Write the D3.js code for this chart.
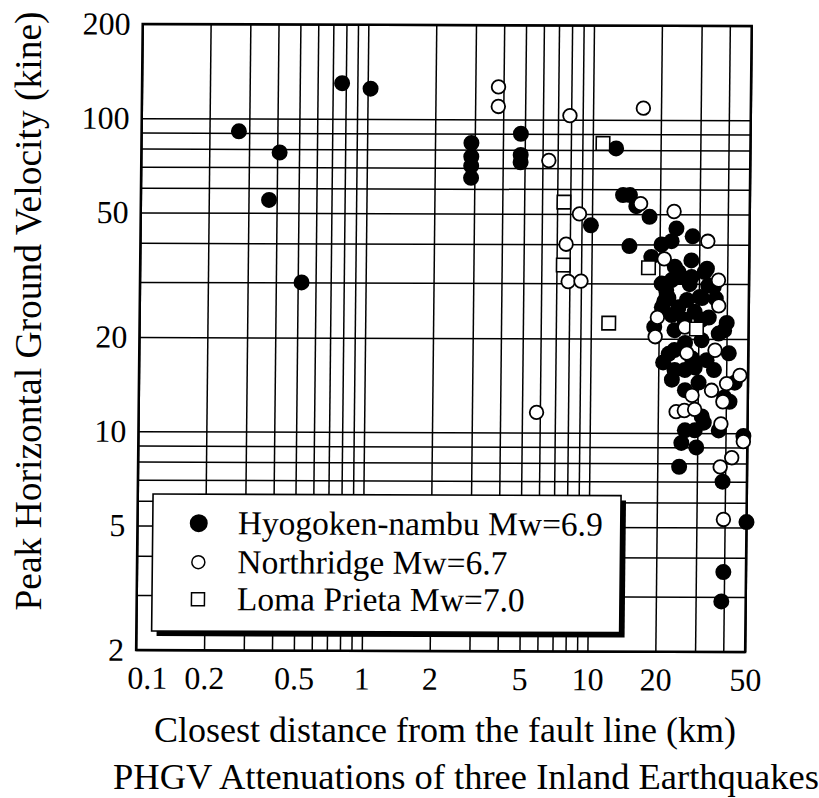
<!DOCTYPE html>
<html>
<head>
<meta charset="utf-8">
<script src="https://cdn.jsdelivr.net/npm/d3@7"></script>
<style>
  body { margin: 0; background: #fff; }
  svg { display: block; }
  text { font-family: "Liberation Serif", "Times New Roman", serif; fill: #000; }
</style>
</head>
<body>
<div id="chart"></div>
<script>
// closest distance (km), peak horizontal ground velocity (kine)
var hyogoken = [
  [0.27, 91], [0.37, 55], [0.41, 78], [0.52, 30], [0.77, 130], [1.03, 125],
  [2.9, 84], [2.9, 76], [2.9, 71], [2.9, 65],
  [4.8, 90], [4.8, 77], [4.8, 73],
  [12.7, 81], [13.7, 57.5], [14.7, 57.5], [15.7, 53], [18, 49], [9.9, 46], [14.7, 39.5],
  [23.7, 45], [22.6, 41], [28, 42.5], [20.4, 40], [18.4, 36.5],
  [23.4, 34], [25.1, 31.5], [20.5, 30], [22, 27], [31, 27], [32.5, 33.5], [20.6, 25.2],
  [19.1, 21.8], [40, 22.5], [33.3, 23.4], [23.5, 18.4], [41, 18],
  [24.3, 32.7], [22.7, 30.8], [27.8, 31.5], [31.8, 32.7], [30.3, 27.2], [21.5, 28.6],
  [21.1, 26.3], [24.4, 25.2], [22.8, 23.8], [28.8, 24.4], [26, 23], [23.5, 21.3], [39, 21.3],
  [22.2, 17.9], [23.6, 15.9], [29, 16.2], [23, 14.8], [30.2, 14.5], [39.3, 13], [36.9, 20.8],
  [26.2, 15.9], [43.7, 14.5], [41.5, 12.6], [32, 10.8], [29.2, 10.2], [25.5, 9.3], [29.7, 9.0],
  [26.4, 10.2], [37.3, 10.2], [48, 9.8], [25, 7.8], [39, 7.0], [39.7, 3.6], [39, 2.9],
  [50, 5.2], [31.3, 11.3], [27.3, 29.9], [26.6, 26.6], [33, 29.6],
  [26.2, 19.4], [31, 19.8], [32.7, 17.1], [28.2, 17.3], [35.3, 15.9], [21, 16.8],
  [26.3, 13.7], [34.9, 29.3], [35.7, 26.9], [27.7, 35.6], [30.9, 23]
];
var northridge = [
  [3.8, 127], [3.8, 110], [7.9, 103], [16.7, 109], [6.4, 74], [8.8, 50], [7.7, 40],
  [7.9, 30.4], [9.0, 30.5], [5.8, 11.6], [16.4, 54], [23.1, 51], [32.7, 41], [21, 36],
  [36.6, 30.8], [36.8, 25.5], [19.7, 23.4], [19.3, 20.3], [35.6, 18.4], [26.7, 18],
  [46, 15.3], [40.2, 14.4], [34.5, 13.7], [28.3, 13.2], [38.8, 12.6], [24.1, 11.7],
  [26.2, 11.8], [29.1, 11.9], [38.1, 10.7], [48, 9.4], [42.7, 8.35], [38, 7.8],
  [39.5, 5.3], [26.1, 21.8]
];
var lomaPrieta = [
  [11.1, 84], [7.5, 54.5], [7.5, 34.3], [12, 22.4], [17.9, 33.7], [29.4, 21.5]
];
var legendLabels = ["Hyogoken-nambu Mw=6.9", "Northridge Mw=6.7", "Loma Prieta Mw=7.0"];
var xTicks = [0.1, 0.2, 0.5, 1, 2, 5, 10, 20, 50];
var yTicks = [2, 5, 10, 20, 50, 100, 200];

var W = 819, H = 798;
var plotL = 142.7, plotR = 751.7, plotT = 24, plotB = 650;

var svg = d3.select("#chart").append("svg")
    .attr("width", W)
    .attr("height", H);

var x = d3.scaleLog().domain([0.1, 50]).range([plotL, plotR]);
var y = d3.scaleLog().domain([2, 200]).range([plotB, plotT]);

// the scanned original is slightly sheared
var g = svg.append("g")
    .attr("transform", "translate(" + plotL + "," + plotT + ") matrix(1,0.0033,-0.0105,1,0,0) translate(" + (-plotL) + "," + (-plotT) + ")");

// grid
g.append("g")
    .attr("class", "grid")
    .attr("transform", "translate(0," + plotB + ")")
    .call(d3.axisBottom(x).tickValues(x.ticks()).tickSize(-(plotB - plotT)).tickFormat(""))
    .call(function(s) { s.select(".domain").remove(); });
g.append("g")
    .attr("class", "grid")
    .attr("transform", "translate(" + plotL + ",0)")
    .call(d3.axisLeft(y).tickValues(y.ticks()).tickSize(-(plotR - plotL)).tickFormat(""))
    .call(function(s) { s.select(".domain").remove(); });
g.selectAll(".grid line").attr("stroke", "#000").attr("stroke-width", 1.5);

// tick labels
var xa = g.append("g")
    .attr("transform", "translate(0," + plotB + ")")
    .call(d3.axisBottom(x).tickValues(xTicks).tickSize(0).tickPadding(16).tickFormat(function(d) { return d; }));
var ya = g.append("g")
    .attr("transform", "translate(" + plotL + ",0)")
    .call(d3.axisLeft(y).tickValues(yTicks).tickSize(0).tickPadding(12).tickFormat(function(d) { return d; }));
xa.select(".domain").remove();
ya.select(".domain").remove();
g.selectAll(".tick text")
    .attr("font-family", "Liberation Serif, Times New Roman, serif")
    .attr("font-size", 32)
    .attr("fill", "#000");
// first label sits clear of the corner
xa.selectAll(".tick text").filter(function(d) { return d === 0.1; }).attr("dx", 11);

// frame
g.append("rect")
    .attr("x", plotL).attr("y", plotT)
    .attr("width", plotR - plotL).attr("height", plotB - plotT)
    .attr("fill", "none").attr("stroke", "#000").attr("stroke-width", 2.5);

// points
g.append("g").selectAll("circle")
    .data(hyogoken)
  .enter().append("circle")
    .attr("cx", function(d) { return x(d[0]); })
    .attr("cy", function(d) { return y(d[1]); })
    .attr("r", 8)
    .attr("fill", "#000");

g.append("g").selectAll("circle")
    .data(northridge)
  .enter().append("circle")
    .attr("cx", function(d) { return x(d[0]); })
    .attr("cy", function(d) { return y(d[1]); })
    .attr("r", 6.8)
    .attr("fill", "#fff")
    .attr("stroke", "#000")
    .attr("stroke-width", 1.8);

var sq = 13.5;
g.append("g").selectAll("rect")
    .data(lomaPrieta)
  .enter().append("rect")
    .attr("x", function(d) { return x(d[0]) - sq / 2; })
    .attr("y", function(d) { return y(d[1]) - sq / 2; })
    .attr("width", sq).attr("height", sq)
    .attr("fill", "#fff")
    .attr("stroke", "#000")
    .attr("stroke-width", 1.6);

// legend
var lx = 158, ly = 494, lw = 468, lh = 137;
var legend = g.append("g");
legend.append("rect")
    .attr("x", lx + 5).attr("y", ly + 5)
    .attr("width", lw).attr("height", lh)
    .attr("fill", "#000");
legend.append("rect")
    .attr("x", lx).attr("y", ly)
    .attr("width", lw).attr("height", lh)
    .attr("fill", "#fff").attr("stroke", "#000").attr("stroke-width", 1.6);

var rowY = [523, 562, 599];
var mx = 204;
legend.append("circle").attr("cx", mx).attr("cy", rowY[0]).attr("r", 9).attr("fill", "#000");
legend.append("circle").attr("cx", mx).attr("cy", rowY[1]).attr("r", 6.5)
    .attr("fill", "#fff").attr("stroke", "#000").attr("stroke-width", 1.5);
legend.append("rect").attr("x", mx - 6.5).attr("y", rowY[2] - 6.5).attr("width", 13).attr("height", 13)
    .attr("fill", "#fff").attr("stroke", "#000").attr("stroke-width", 1.5);
legend.selectAll("text.lab")
    .data(legendLabels)
  .enter().append("text")
    .attr("class", "lab")
    .attr("x", 243)
    .attr("y", function(d, i) { return rowY[i] + 11; })
    .attr("font-size", 33.5)
    .text(function(d) { return d; });

// titles
svg.append("text")
    .attr("transform", "translate(41,311) rotate(-90)")
    .attr("text-anchor", "middle")
    .attr("font-size", 37.5)
    .text("Peak Horizontal Ground Velocity (kine)");
svg.append("text")
    .attr("x", 445).attr("y", 742)
    .attr("text-anchor", "middle")
    .attr("font-size", 36)
    .text("Closest distance from the fault line (km)");
svg.append("text")
    .attr("x", 466).attr("y", 789)
    .attr("text-anchor", "middle")
    .attr("font-size", 36.5)
    .text("PHGV Attenuations of three Inland Earthquakes");
</script>
</body>
</html>
